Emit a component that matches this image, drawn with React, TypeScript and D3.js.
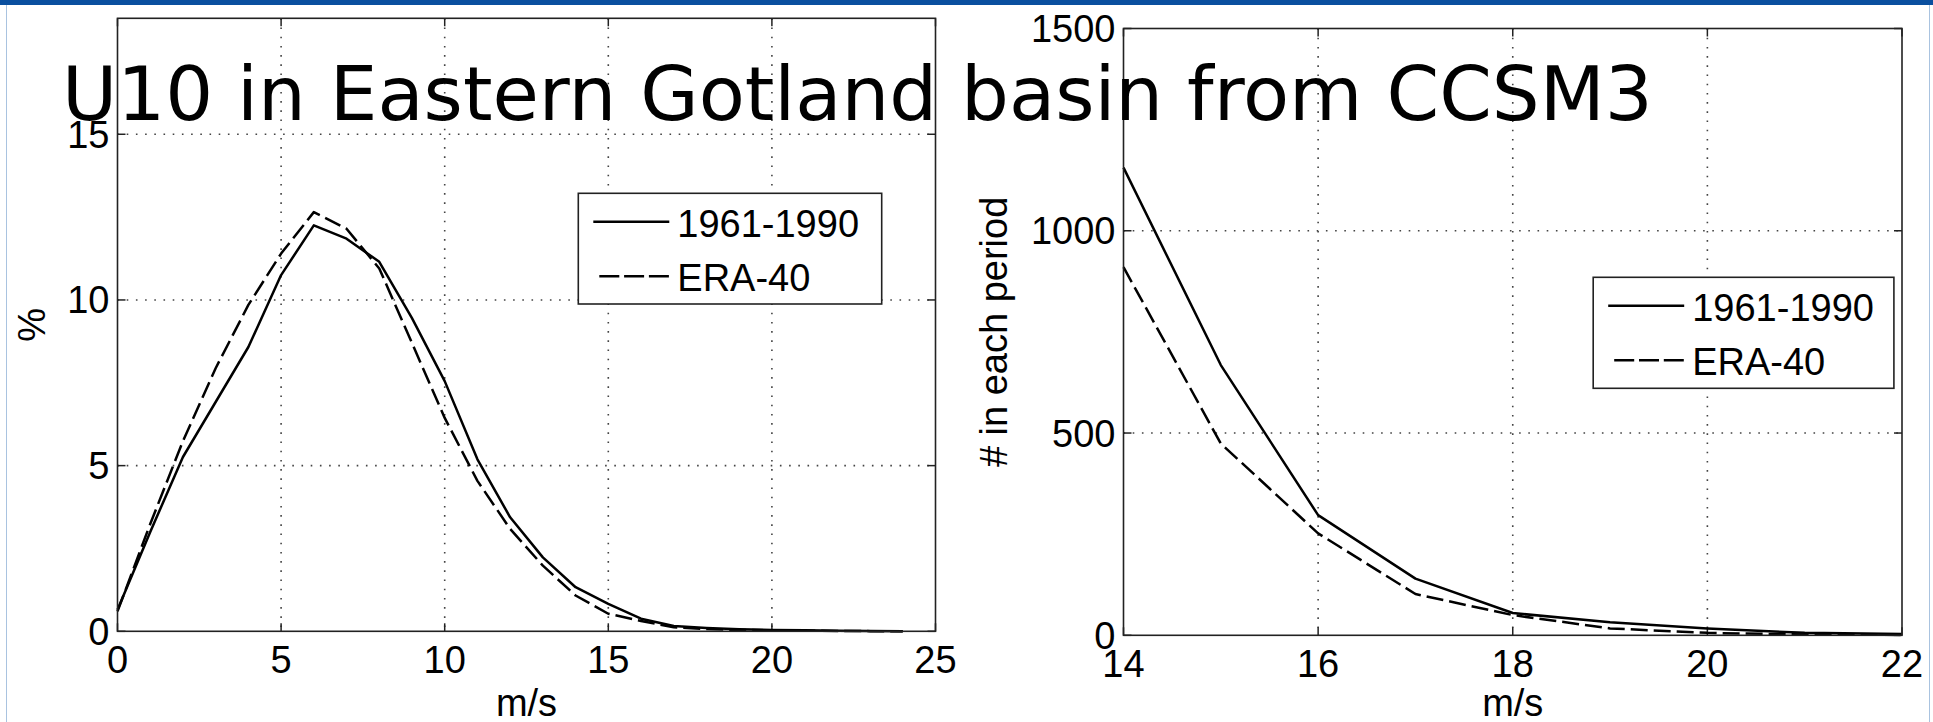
import React, { useEffect } from "react";
import * as d3 from "d3";

// ---------- data ----------
const titleText = "U10 in Eastern Gotland basin from CCSM3";
const seriesNames = ["1961-1990", "ERA-40"];

// Left panel: distribution of U10 (%)
const leftX = [0, 1, 2, 3, 4, 5, 6, 7, 8, 9, 10, 11, 12, 13, 14, 15, 16, 17, 18, 19, 20, 21, 22, 23, 24];
const leftCCSM = [0.65, 3.0, 5.26, 6.92, 8.58, 10.75, 12.25, 11.85, 11.15, 9.45, 7.55, 5.19, 3.44, 2.23, 1.33, 0.83, 0.38, 0.16, 0.1, 0.06, 0.04, 0.03, 0.02, 0.01, 0.005];
const leftERA = [0.6, 3.24, 5.74, 7.94, 9.85, 11.4, 12.65, 12.15, 10.95, 8.7, 6.44, 4.54, 3.09, 1.98, 1.08, 0.53, 0.31, 0.12, 0.07, 0.04, 0.03, 0.02, 0.01, 0.005, 0];
const leftXTicks = [0, 5, 10, 15, 20, 25];
const leftYTicks = [0, 5, 10, 15];
const leftXLabel = "m/s";
const leftYLabel = "%";

// Right panel: counts in each period (strong winds)
const rightX = [14, 15, 16, 17, 18, 19, 20, 21, 22];
const rightCCSM = [1156, 668, 297, 140, 55, 32, 17, 6, 3];
const rightERA = [910, 474, 252, 102, 50, 17, 6, 2, 1];
const rightXTicks = [14, 16, 18, 20, 22];
const rightYTicks = [0, 500, 1000, 1500];
const rightXLabel = "m/s";
const rightYLabel = "# in each period";

const W = 1933;
const H = 722;
const FONT = "'Liberation Sans', Arial, Helvetica, sans-serif";
const FS = 38;
const DASH = "17,6";
const LW = 2.5;

type PanelProps = {
  xs: number[];
  a: number[];
  b: number[];
  xDomain: [number, number];
  yDomain: [number, number];
  left: number;
  right: number;
  top: number;
  bottom: number;
  xTicks: number[];
  yTicks: number[];
  xLabel: string;
  yLabel: string;
  yLabelX: number;
  legend: { x: number; y: number; w: number; h: number };
};

function Panel(p: PanelProps) {
  const x = d3.scaleLinear().domain(p.xDomain).range([p.left, p.right]);
  const y = d3.scaleLinear().domain(p.yDomain).range([p.bottom, p.top]);
  const line = d3
    .line<number>()
    .x((_, i) => x(p.xs[i]))
    .y((v) => y(v));
  const tickLen = 8;
  const gridStyle = { stroke: "#444", strokeWidth: 1.6, strokeDasharray: "1.6,7.6", fill: "none" };
  const xGrid = p.xTicks.filter((t) => t !== p.xDomain[0] && t !== p.xDomain[1]);
  const yGrid = p.yTicks.filter((t) => t !== p.yDomain[0] && y(t) > p.top + 1);
  const lg = p.legend;
  return (
    <g>
      {/* grid */}
      {xGrid.map((t) => (
        <line key={"gx" + t} x1={x(t)} x2={x(t)} y1={p.top} y2={p.bottom} style={gridStyle} />
      ))}
      {yGrid.map((t) => (
        <line key={"gy" + t} x1={p.left} x2={p.right} y1={y(t)} y2={y(t)} style={gridStyle} />
      ))}
      {/* ticks inward on all sides */}
      {p.xTicks.map((t) => (
        <g key={"tx" + t}>
          <line x1={x(t)} x2={x(t)} y1={p.bottom} y2={p.bottom - tickLen} stroke="#222" strokeWidth={1.5} />
          <line x1={x(t)} x2={x(t)} y1={p.top} y2={p.top + tickLen} stroke="#222" strokeWidth={1.5} />
        </g>
      ))}
      {p.yTicks.map((t) => (
        <g key={"ty" + t}>
          <line x1={p.left} x2={p.left + tickLen} y1={y(t)} y2={y(t)} stroke="#222" strokeWidth={1.5} />
          <line x1={p.right} x2={p.right - tickLen} y1={y(t)} y2={y(t)} stroke="#222" strokeWidth={1.5} />
        </g>
      ))}
      {/* data */}
      <path d={line(p.a) || ""} fill="none" stroke="#000" strokeWidth={LW} strokeLinejoin="round" />
      <path d={line(p.b) || ""} fill="none" stroke="#000" strokeWidth={LW} strokeDasharray={DASH} strokeLinejoin="round" />
      {/* frame */}
      <rect x={p.left} y={p.top} width={p.right - p.left} height={p.bottom - p.top} fill="none" stroke="#222" strokeWidth={1.6} />
      {/* tick labels */}
      {p.xTicks.map((t) => (
        <text key={"lx" + t} x={x(t)} y={p.bottom + 42} textAnchor="middle" fontFamily={FONT} fontSize={FS} fill="#000">
          {t}
        </text>
      ))}
      {p.yTicks.map((t) => (
        <text key={"ly" + t} x={p.left - 8} y={y(t) + 13.5} textAnchor="end" fontFamily={FONT} fontSize={FS} fill="#000">
          {t}
        </text>
      ))}
      {/* axis labels */}
      <text x={(p.left + p.right) / 2} y={716} textAnchor="middle" fontFamily={FONT} fontSize={FS} fill="#000">
        {p.xLabel}
      </text>
      <text
        transform={`translate(${p.yLabelX},${(p.top + p.bottom) / 2}) rotate(-90)`}
        textAnchor="middle"
        fontFamily={FONT}
        fontSize={FS}
        fill="#000"
      >
        {p.yLabel}
      </text>
      {/* legend */}
      <rect x={lg.x} y={lg.y} width={lg.w} height={lg.h} fill="#fff" stroke="#222" strokeWidth={1.6} />
      <line x1={lg.x + 15} x2={lg.x + 91} y1={lg.y + 28.5} y2={lg.y + 28.5} stroke="#000" strokeWidth={LW} />
      <text x={lg.x + 99} y={lg.y + 43.5} fontFamily={FONT} fontSize={FS} fill="#000">
        {seriesNames[0]}
      </text>
      <line x1={lg.x + 21} x2={lg.x + 91} y1={lg.y + 83} y2={lg.y + 83} stroke="#000" strokeWidth={LW} strokeDasharray="20,4.8" />
      <text x={lg.x + 99} y={lg.y + 97.5} fontFamily={FONT} fontSize={FS} fill="#000">
        {seriesNames[1]}
      </text>
    </g>
  );
}

export default function App() {
  useEffect(() => {
    document.body.style.margin = "0";
    document.body.style.overflow = "hidden";
  }, []);
  return (
    <svg width={W} height={H} style={{ position: "absolute", left: 0, top: 0, display: "block", background: "#fff" }}>
      <rect x={0} y={0} width={W} height={H} fill="#fff" />
      <rect x={0} y={0} width={W} height={5} fill="#0a4f9f" />
      <line x1={6.5} x2={6.5} y1={5} y2={H} stroke="#a9c3e0" strokeWidth={1} />
      <line x1={1929.5} x2={1929.5} y1={5} y2={H} stroke="#a9c3e0" strokeWidth={1} />
      <Panel
        xs={leftX}
        a={leftCCSM}
        b={leftERA}
        xDomain={[0, 25]}
        yDomain={[0, 18.5]}
        left={117.5}
        right={935.5}
        top={18.3}
        bottom={631.3}
        xTicks={leftXTicks}
        yTicks={leftYTicks}
        xLabel={leftXLabel}
        yLabel={leftYLabel}
        yLabelX={45}
        legend={{ x: 578.3, y: 193.3, w: 303.4, h: 110.7 }}
      />
      <Panel
        xs={rightX}
        a={rightCCSM}
        b={rightERA}
        xDomain={[14, 22]}
        yDomain={[0, 1500]}
        left={1123.5}
        right={1902}
        top={28.5}
        bottom={635.3}
        xTicks={rightXTicks}
        yTicks={rightYTicks}
        xLabel={rightXLabel}
        yLabel={rightYLabel}
        yLabelX={1006.7}
        legend={{ x: 1593.2, y: 277.3, w: 300.7, h: 111 }}
      />
      <text x={62} y={119.5} fontFamily="'DejaVu Sans', Verdana, sans-serif" fontSize={75.4} fill="#000">
        {titleText}
      </text>
    </svg>
  );
}
